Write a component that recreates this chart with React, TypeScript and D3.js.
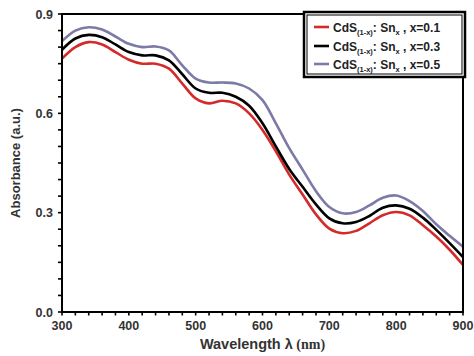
import React from 'react';
import * as d3 from 'd3';

const wavelengths = [300, 320, 340, 360, 380, 400, 420, 440, 460, 480, 500, 520, 540, 560, 580, 600, 620, 640, 660, 680, 700, 720, 740, 760, 780, 800, 820, 840, 860, 880, 900];

const x01 = [0.765, 0.8, 0.815, 0.808, 0.785, 0.762, 0.75, 0.75, 0.735, 0.69, 0.645, 0.63, 0.638, 0.63, 0.6, 0.55, 0.485, 0.415, 0.355, 0.295, 0.252, 0.238, 0.245, 0.268, 0.292, 0.302, 0.292, 0.262, 0.228, 0.188, 0.142];
const x03 = [0.792, 0.826, 0.837, 0.83, 0.808, 0.785, 0.775, 0.775, 0.76, 0.718, 0.675, 0.662, 0.662, 0.65, 0.623, 0.57, 0.5, 0.432, 0.378, 0.325, 0.283, 0.268, 0.272, 0.29, 0.315, 0.322, 0.312, 0.285, 0.248, 0.208, 0.166];
const x05 = [0.818, 0.85, 0.86, 0.853, 0.832, 0.81, 0.8, 0.802, 0.79, 0.745, 0.705, 0.693, 0.693, 0.69, 0.675, 0.64, 0.57, 0.495, 0.43, 0.365, 0.317, 0.298, 0.302, 0.322, 0.345, 0.352, 0.335, 0.305, 0.265, 0.23, 0.197];

const xTicks = [300, 400, 500, 600, 700, 800, 900];
const yTicks = [0.0, 0.3, 0.6, 0.9];

const seriesList = [
  { label: '0.1', values: x01, color: '#d42a2a' },
  { label: '0.3', values: x03, color: '#000000' },
  { label: '0.5', values: x05, color: '#7c7aa6' },
];

const W = 474;
const H = 356;
const margin = { top: 14, right: 11, bottom: 44, left: 62 };

export default function App() {
  const innerW = W - margin.left - margin.right;
  const innerH = H - margin.top - margin.bottom;

  const xScale = d3.scaleLinear().domain([300, 900]).range([0, innerW]);
  const yScale = d3.scaleLinear().domain([0, 0.9]).range([innerH, 0]);

  const line = d3
    .line<number>()
    .x((_, i) => xScale(wavelengths[i]))
    .y(d => yScale(d))
    .curve(d3.curveCatmullRom.alpha(0.5));

  const xMinor = d3.range(300, 901, 20);
  const yMinor = d3.range(0, 0.9001, 0.05);
  const tickFont = 'Liberation Sans, Arial, sans-serif';

  const legendX = 304 - margin.left;
  const legendY = 12 - margin.top;
  const rowY = [27, 46, 64].map(v => v - margin.top);

  return (
    <svg width={W} height={H} style={{ position: 'absolute', left: 0, top: 0, background: '#fff' }}>
      <g transform={`translate(${margin.left},${margin.top})`}>
        {/* curves */}
        {seriesList.map(s => (
          <path key={s.label} d={line(s.values) || ''} fill="none" stroke={s.color} strokeWidth={2.6} />
        ))}

        {/* frame */}
        <rect x={0} y={0} width={innerW} height={innerH} fill="none" stroke="#000" strokeWidth={2} />

        {/* x ticks */}
        {xMinor.map(t => (
          <line key={'xm' + t} x1={xScale(t)} x2={xScale(t)} y1={innerH} y2={innerH + 3.5} stroke="#000" strokeWidth={1.6} />
        ))}
        {xTicks.map(t => (
          <text key={'xt' + t} x={xScale(t)} y={innerH + 18} textAnchor="middle" fontFamily={tickFont} fontWeight="bold" fontSize={12.5} fill="#333">
            {t}
          </text>
        ))}

        {/* y ticks */}
        {yMinor.map(t => (
          <line key={'ym' + t.toFixed(2)} x1={-4} x2={0} y1={yScale(t)} y2={yScale(t)} stroke="#000" strokeWidth={1.6} />
        ))}
        {yTicks.map(t => (
          <text key={'yt' + t} x={-9} y={yScale(t) + 4.5} textAnchor="end" fontFamily={tickFont} fontWeight="bold" fontSize={12.5} fill="#333">
            {t.toFixed(1)}
          </text>
        ))}

        {/* axis titles */}
        <text
          transform={`translate(${20 - margin.left},${innerH / 2}) rotate(-90)`}
          textAnchor="middle"
          fontFamily={tickFont}
          fontWeight="bold"
          fontSize={13}
          fill="#333"
        >
          Absorbance (a.u.)
        </text>
        <text x={innerW / 2} y={innerH + 37} textAnchor="middle" fontFamily={tickFont} fontWeight="bold" fontSize={14.5} fill="#333">
          Wavelength λ
          <tspan fontFamily="Liberation Serif, Times New Roman, serif" fontSize={14}> (nm)</tspan>
        </text>

        {/* legend */}
        <rect x={legendX} y={legendY} width={161} height={65} fill="#fff" stroke="#000" strokeWidth={2.5} />
        <rect x={legendX + 3} y={legendY + 3} width={155} height={59} fill="none" stroke="#000" strokeWidth={1} />
        {seriesList.map((s, i) => (
          <g key={'lg' + s.label} transform={`translate(${legendX + 10},${rowY[i]})`}>
            <line x1={0} x2={15} y1={0} y2={0} stroke={s.color} strokeWidth={2.6} />
            <text x={19} y={4.5} fontFamily={tickFont} fontWeight="bold" fontSize={12} fill="#222">
              CdS
              <tspan fontSize={7.5} dy={3}>(1-x)</tspan>
              <tspan dy={-3}>: Sn</tspan>
              <tspan fontSize={7.5} dy={3}>x</tspan>
              <tspan dy={-3}>{` , x=${s.label}`}</tspan>
            </text>
          </g>
        ))}
      </g>
    </svg>
  );
}
